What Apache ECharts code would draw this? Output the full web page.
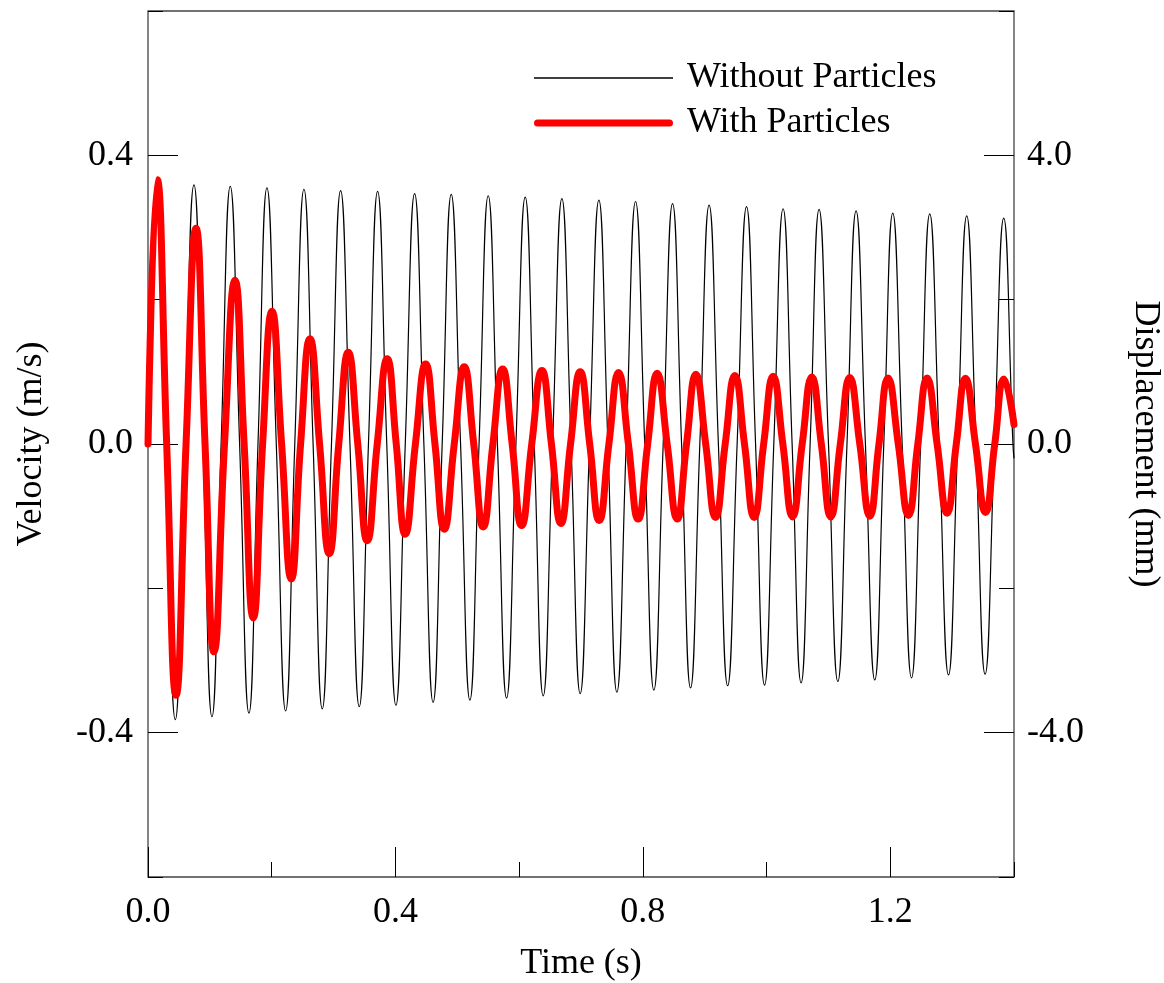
<!DOCTYPE html>
<html><head><meta charset="utf-8">
<script src="https://cdn.jsdelivr.net/npm/echarts@6/dist/echarts.min.js"></script>
<style>html,body{margin:0;padding:0;background:#fff}#c{width:1164px;height:983px}</style>
</head><body><div id="c"></div>
<script>
const seriesNames = ['Without Particles', 'With Particles'];

// Without Particles: time (s) of start, extrema and zero crossings, and velocity (m/s)
const withoutT = [0, 0.0150, 0.0296, 0.0441, 0.0592, 0.0743, 0.0888, 0.1034, 0.1182, 0.1330, 0.1481, 0.1632, 0.1778, 0.1923, 0.2074, 0.2225, 0.2373, 0.2521, 0.2669, 0.2817, 0.2966, 0.3114, 0.3265, 0.3415, 0.3564, 0.3712, 0.3860, 0.4008, 0.4159, 0.4310, 0.4460, 0.4609, 0.4756, 0.4902, 0.5053, 0.5204, 0.5352, 0.5500, 0.5649, 0.5797, 0.5948, 0.6098, 0.6244, 0.6389, 0.6540, 0.6691, 0.6839, 0.6987, 0.7138, 0.7289, 0.7435, 0.7580, 0.7731, 0.7882, 0.8030, 0.8178, 0.8329, 0.8480, 0.8626, 0.8771, 0.8921, 0.9071, 0.9221, 0.9371, 0.9524, 0.9676, 0.9822, 0.9967, 1.0117, 1.0267, 1.0413, 1.0558, 1.0704, 1.0849, 1.1001, 1.1152, 1.1300, 1.1447, 1.1598, 1.1749, 1.1895, 1.2040, 1.2192, 1.2343, 1.2491, 1.2638, 1.2790, 1.2941, 1.3089, 1.3236, 1.3385, 1.3533, 1.3684, 1.3834, 1.3983, 1.4000];
const withoutV = [0, 0.363, 0, -0.382, 0, 0.359, 0, -0.378, 0, 0.357, 0, -0.373, 0, 0.355, 0, -0.370, 0, 0.353, 0, -0.367, 0, 0.351, 0, -0.364, 0, 0.350, 0, -0.362, 0, 0.347, 0, -0.358, 0, 0.346, 0, -0.355, 0, 0.344, 0, -0.352, 0, 0.342, 0, -0.349, 0, 0.340, 0, -0.346, 0, 0.338, 0, -0.344, 0, 0.336, 0, -0.341, 0, 0.333, 0, -0.338, 0, 0.331, 0, -0.335, 0, 0.329, 0, -0.334, 0, 0.326, 0, -0.331, 0, 0.325, 0, -0.329, 0, 0.323, 0, -0.327, 0, 0.320, 0, -0.324, 0, 0.319, 0, -0.320, 0, 0.316, 0, -0.319, 0, 0.313, 0, -0.020];

// With Particles
const withT = [0, 0.0150, 0.0302, 0.0453, 0.0615, 0.0776, 0.0922, 0.1067, 0.1237, 0.1406, 0.1554, 0.1702, 0.1853, 0.2004, 0.2160, 0.2316, 0.2467, 0.2618, 0.2774, 0.2930, 0.3084, 0.3237, 0.3391, 0.3544, 0.3706, 0.3867, 0.4013, 0.4158, 0.4323, 0.4488, 0.4639, 0.4789, 0.4951, 0.5112, 0.5266, 0.5419, 0.5576, 0.5733, 0.5887, 0.6040, 0.6204, 0.6368, 0.6522, 0.6675, 0.6831, 0.6987, 0.7141, 0.7294, 0.7451, 0.7607, 0.7766, 0.7924, 0.8078, 0.8231, 0.8393, 0.8554, 0.8706, 0.8857, 0.9016, 0.9175, 0.9331, 0.9487, 0.9643, 0.9799, 0.9953, 1.0106, 1.0263, 1.0420, 1.0576, 1.0731, 1.0885, 1.1038, 1.1192, 1.1345, 1.1507, 1.1669, 1.1817, 1.1964, 1.2129, 1.2294, 1.2445, 1.2595, 1.2757, 1.2918, 1.3067, 1.3215, 1.3377, 1.3539, 1.3689, 1.3839, 1.4000];
const withV = [0, 0.366, 0, -0.348, 0, 0.299, 0, -0.288, 0, 0.227, 0, -0.241, 0, 0.184, 0, -0.187, 0, 0.146, 0, -0.152, 0, 0.127, 0, -0.134, 0, 0.118, 0, -0.125, 0, 0.111, 0, -0.118, 0, 0.107, 0, -0.115, 0, 0.104, 0, -0.113, 0, 0.102, 0, -0.110, 0, 0.100, 0, -0.106, 0, 0.099, 0, -0.104, 0, 0.098, 0, -0.104, 0, 0.0965, 0, -0.102, 0, 0.095, 0, -0.102, 0, 0.094, 0, -0.101, 0, 0.093, 0, -0.101, 0, 0.092, 0, -0.100, 0, 0.0915, 0, -0.099, 0, 0.0915, 0, -0.096, 0, 0.091, 0, -0.095, 0, 0.090, 0.027];

const xTickLabels = [0, 0.4, 0.8, 1.2];
const velTickLabels = [-0.4, 0, 0.4];
const dispTickLabels = [-4, 0, 4];

const FONT = 'Liberation Serif, Times New Roman, serif';
const txt = {fontFamily: FONT, fontSize: 36, color: '#000'};

const chart = echarts.init(document.getElementById('c'), null, {renderer: 'canvas'});
const pairs = (T, V) => T.map((t, i) => [t, V[i]]);

const majorTick = vals => ({show: true, inside: true, length: 30, customValues: vals, lineStyle: {color: '#000', width: 1}});
const minorTick = {show: true, inside: true, length: 15, lineStyle: {color: '#000', width: 1}};
const noLine = {show: false, onZero: false};

chart.setOption({
  animation: false,
  backgroundColor: '#fff',
  grid: {left: 148, right: 150, top: 11, bottom: 106, outerBoundsMode: 'none', containLabel: false,
         show: true, borderColor: '#444', borderWidth: 1.3, backgroundColor: 'transparent'},
  legend: {
    orient: 'vertical', left: 534, top: 60, padding: 0,
    itemWidth: 139, itemHeight: 14, itemGap: 9,
    data: [
      {name: seriesNames[0], icon: 'path://M0,0H139V1.3H0Z', itemStyle: {color: '#000'}},
      {name: seriesNames[1], icon: 'path://M3.5,0H135.5A3.5,3.5,0,0,1,135.5,7H3.5A3.5,3.5,0,0,1,3.5,0Z', itemStyle: {color: '#ff0000'}}
    ],
    textStyle: Object.assign({lineHeight: 36, padding: [0, 0, 0, 9]}, txt)
  },
  xAxis: [
    {type: 'value', min: 0, max: 1.4, position: 'bottom',
     axisLine: noLine, splitLine: {show: false},
     axisTick: majorTick(xTickLabels),
     axisLabel: Object.assign({customValues: xTickLabels, margin: 18, formatter: v => v.toFixed(1)}, txt),
     name: 'Time (s)', nameLocation: 'middle', nameGap: 69, nameTextStyle: txt},
    {type: 'value', min: 0, max: 1.4, interval: 0.2, position: 'bottom',
     axisLine: noLine, splitLine: {show: false},
     axisTick: minorTick, axisLabel: {show: false}}
  ],
  yAxis: [
    {type: 'value', min: -0.6, max: 0.6, position: 'left',
     axisLine: noLine, splitLine: {show: false},
     axisTick: majorTick(velTickLabels),
     axisLabel: Object.assign({customValues: velTickLabels, margin: 15, formatter: v => v.toFixed(1)}, txt),
     name: 'Velocity (m/s)', nameLocation: 'middle', nameGap: 98, nameTextStyle: txt},
    {type: 'value', min: -0.6, max: 0.6, interval: 0.2, position: 'left',
     axisLine: noLine, splitLine: {show: false},
     axisTick: minorTick, axisLabel: {show: false}},
    {type: 'value', min: -6, max: 6, position: 'right',
     axisLine: noLine, splitLine: {show: false},
     axisTick: majorTick(dispTickLabels),
     axisLabel: Object.assign({customValues: dispTickLabels, margin: 13, formatter: v => v.toFixed(1)}, txt),
     name: 'Displacement (mm)', nameLocation: 'middle', nameRotate: -90, nameGap: 113, nameTextStyle: txt},
    {type: 'value', min: -6, max: 6, interval: 2, position: 'right',
     axisLine: noLine, splitLine: {show: false},
     axisTick: minorTick, axisLabel: {show: false}}
  ],
  series: [
    {name: seriesNames[0], type: 'line', xAxisIndex: 0, yAxisIndex: 0, symbol: 'none', smooth: 0.5,
     lineStyle: {color: '#000', width: 1.2}, itemStyle: {color: '#000'},
     data: pairs(withoutT, withoutV)},
    {name: seriesNames[1], type: 'line', xAxisIndex: 0, yAxisIndex: 0, symbol: 'none', smooth: 0.5,
     lineStyle: {color: '#ff0000', width: 7, cap: 'round', join: 'round'}, itemStyle: {color: '#ff0000'},
     data: pairs(withT, withV)}
  ]
});
</script></body></html>
